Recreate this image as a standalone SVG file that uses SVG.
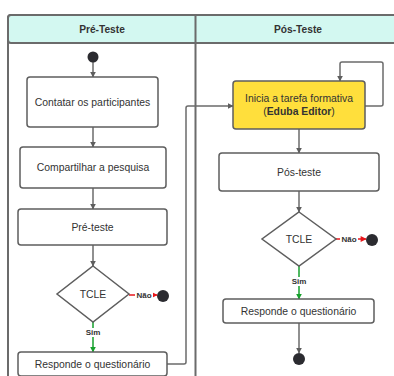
<svg xmlns="http://www.w3.org/2000/svg" width="394" height="376" viewBox="0 0 394 376">
<style>
  .lane{fill:#ffffff;stroke:#6b6b6b;stroke-width:2}
  .hdr{fill:#d3f8f1;stroke:#6b6b6b;stroke-width:2}
  .ht{font-family:"Liberation Sans",Arial,sans-serif;font-size:10.2px;font-weight:bold;fill:#333;text-anchor:middle}
  .box{fill:#fff;stroke:#5e5e5e;stroke-width:1.5}
  .ybox{fill:#ffdf3c;stroke:#5e5e5e;stroke-width:1.5}
  .t{font-family:"Liberation Sans",Arial,sans-serif;font-size:10.4px;fill:#333;text-anchor:middle}
  .c{fill:none;stroke:#6b6b6b;stroke-width:1.5}
  .r{fill:none;stroke:#e8161b;stroke-width:1.5}
  .g{fill:none;stroke:#16a12c;stroke-width:1.5}
  .lbl{font-family:"Liberation Sans",Arial,sans-serif;font-size:8px;font-weight:bold;fill:#333;text-anchor:middle}
  .dot{fill:#2b2b30}
</style>
<defs>
  <marker id="ag" viewBox="0 0 10 10" refX="9" refY="5" markerWidth="6" markerHeight="6" orient="auto" markerUnits="userSpaceOnUse"><path d="M0,0 L10,5 L0,10 z" fill="#5e5e5e"/></marker>
  <marker id="ar" viewBox="0 0 10 10" refX="9" refY="5" markerWidth="7" markerHeight="6" orient="auto" markerUnits="userSpaceOnUse"><path d="M0,0 L10,5 L0,10 z" fill="#e8161b"/></marker>
  <marker id="agr" viewBox="0 0 10 10" refX="9" refY="5" markerWidth="6" markerHeight="6" orient="auto" markerUnits="userSpaceOnUse"><path d="M0,0 L10,5 L0,10 z" fill="#16a12c"/></marker>
</defs>
<rect width="394" height="376" fill="#fff"/>
<g id="lanes">
  <rect class="lane" x="8" y="15" width="396" height="380" rx="3"/>
  <rect class="hdr" x="8" y="15" width="396" height="28" rx="3"/>
  <line x1="195.5" y1="15" x2="195.5" y2="380" stroke="#6b6b6b" stroke-width="2"/>
  <text class="ht" x="102" y="33">Pré-Teste</text>
  <text class="ht" x="298" y="33">Pós-Teste</text>
</g>
<g id="connectors">
  <path class="c" d="M93,62 V77" marker-end="url(#ag)"/>
  <path class="c" d="M93,127 V147" marker-end="url(#ag)"/>
  <path class="c" d="M93,188 V209" marker-end="url(#ag)"/>
  <path class="c" d="M93,245 V266" marker-end="url(#ag)"/>
  <path class="r" d="M129,295 H157" marker-end="url(#ar)"/>
  <path class="g" d="M93,322 V352" marker-end="url(#agr)"/>
  <path class="c" d="M167,364 H184 Q186,364 186,362 V108 Q186,106 188,106 H233" marker-end="url(#ag)"/>
  <path class="c" d="M365,106 H381 Q383,106 383,104 V64 Q383,62 381,62 H342 Q340,62 340,64 V81" marker-end="url(#ag)"/>
  <path class="c" d="M299,129 V153" marker-end="url(#ag)"/>
  <path class="c" d="M299,191 V212" marker-end="url(#ag)"/>
  <path class="r" d="M336,239 H366" marker-end="url(#ar)"/>
  <path class="g" d="M299,266 V299" marker-end="url(#agr)"/>
  <path class="c" d="M299,323 V353" marker-end="url(#ag)"/>
  <rect x="135" y="290" width="18" height="10" fill="#fff"/>
  <text class="lbl" x="144" y="298">Não</text>
  <rect x="340" y="234" width="18" height="10" fill="#fff"/>
  <text class="lbl" x="349" y="242">Não</text>
  <rect x="85" y="328" width="16" height="9" fill="#fff"/>
  <text class="lbl" x="93" y="335">Sim</text>
  <rect x="291" y="277" width="16" height="9" fill="#fff"/>
  <text class="lbl" x="299" y="284">Sim</text>
</g>
<g id="start1"><circle class="dot" cx="93" cy="57" r="5.5"/></g>
<g id="contatar"><rect class="box" x="27" y="77" width="131" height="50" rx="3"/><text class="t" x="92.5" y="105.5">Contatar os participantes</text></g>
<g id="compartilhar"><rect class="box" x="20" y="147" width="146" height="41" rx="3"/><text class="t" x="93" y="171">Compartilhar a pesquisa</text></g>
<g id="preteste"><rect class="box" x="18" y="209" width="149" height="36" rx="3"/><text class="t" x="92.5" y="231">Pré-teste</text></g>
<g id="tcle1"><path class="box" d="M93,266 L129,294 L93,322 L57,294 Z"/><text class="t" x="93" y="298">TCLE</text></g>
<g id="end1"><circle class="dot" cx="163" cy="296" r="6"/></g>
<g id="responde1"><rect class="box" x="18" y="352" width="149" height="24" rx="3"/><text class="t" x="92.5" y="368">Responde o questionário</text></g>
<g id="inicia"><rect class="ybox" x="233" y="81" width="132" height="48" rx="3"/><text class="t" x="299" y="102">Inicia a tarefa formativa</text><text class="t" x="299" y="115">(<tspan font-weight="bold">Eduba Editor</tspan>)</text></g>
<g id="posteste"><rect class="box" x="219" y="153" width="160" height="38" rx="3"/><text class="t" x="299" y="176">Pós-teste</text></g>
<g id="tcle2"><path class="box" d="M299,212 L336,239 L299,266 L262,239 Z"/><text class="t" x="299" y="243">TCLE</text></g>
<g id="end2"><circle class="dot" cx="372" cy="240" r="6"/></g>
<g id="responde2"><rect class="box" x="223" y="299" width="151" height="24" rx="3"/><text class="t" x="298.5" y="315">Responde o questionário</text></g>
<g id="end3"><circle class="dot" cx="299" cy="359" r="6"/></g>
</svg>
